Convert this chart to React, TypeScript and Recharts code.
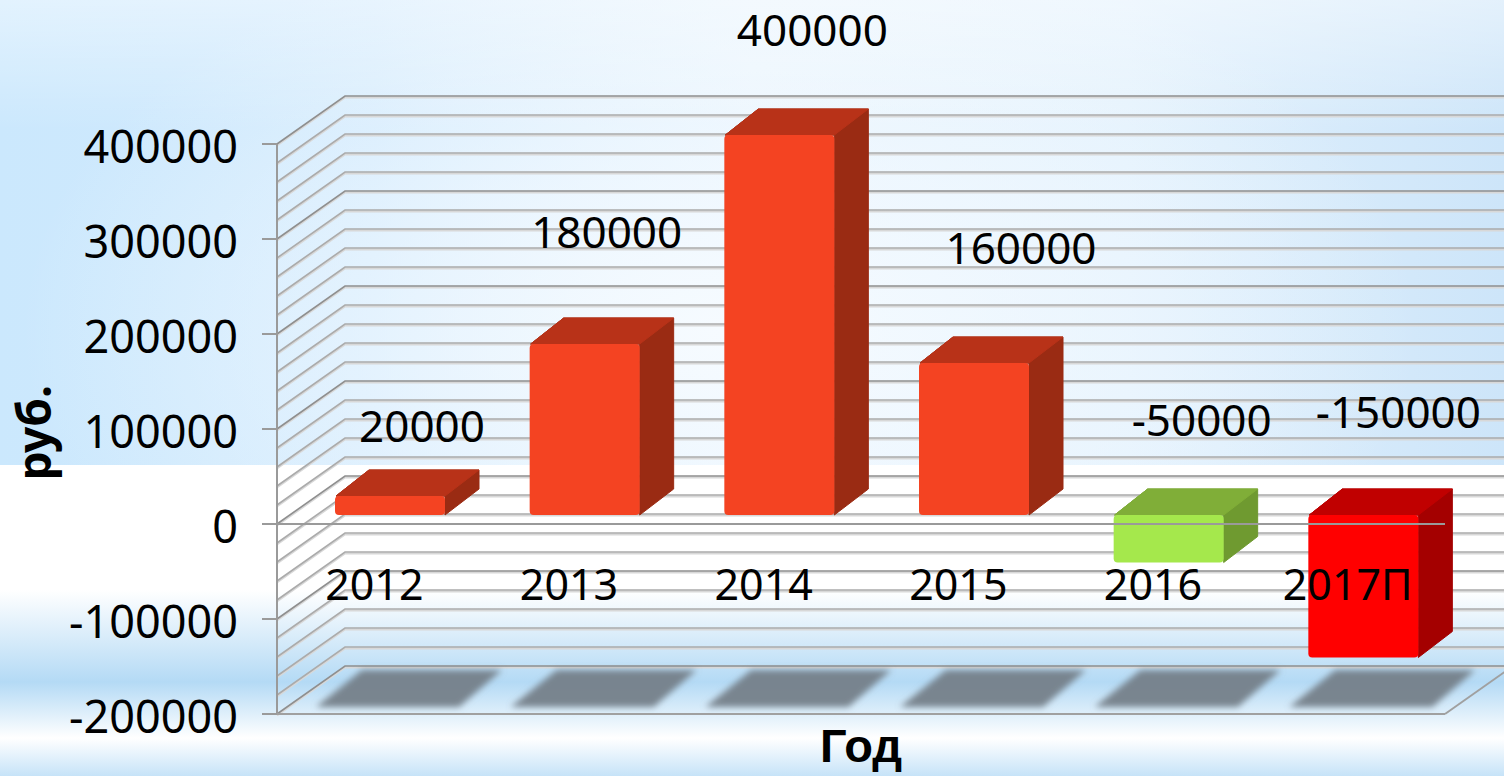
import React from "react";
import { BarChart, Bar, XAxis, YAxis, CartesianGrid, ReferenceLine, LabelList } from "recharts";

const years = ["2012", "2013", "2014", "2015", "2016", "2017П"];
const profit = [20000, 180000, 400000, 160000, -50000, -150000];
const yTicks = [-200000, -100000, 0, 100000, 200000, 300000, 400000];
const gridValues = [
  -200000, -180000, -160000, -140000, -120000, -100000, -80000, -60000, -40000, -20000, 0,
  20000, 40000, 60000, 80000, 100000, 120000, 140000, 160000, 180000, 200000,
  220000, 240000, 260000, 280000, 300000, 320000, 340000, 360000, 380000, 400000,
];

const data = years.map((year, i) => ({ year, profit: profit[i] }));

const orange = { front: "#f44322", top: "#b83218", side: "#9a2b13" };
const green = { front: "#a5e84c", top: "#80ae38", side: "#6f9a30" };
const red = { front: "#ff0000", top: "#c00000", side: "#a40000" };
const barPalette = [orange, orange, orange, orange, green, red];

// how far each value label sits from its bar, hand placed like the original slide
const labelNudge = [
  { dx: 48, dy: -80 },
  { dx: 38, dy: -122 },
  { dx: 49, dy: -115 },
  { dx: 63, dy: -125 },
  { dx: 49, dy: -105 },
  { dx: 51, dy: -113 },
];

const FONT = "'Noto Sans', sans-serif";
const DEPTH_X = 68;
const DEPTH_Y = 48;

function WallLine(props: any) {
  const { x1, y1, x2, index } = props;
  const value = gridValues[index];
  const major = value % 100000 === 0;
  const stroke = major ? "#8f8f8f" : "#ababab";
  const pts = `${x1},${y1} ${x1 + DEPTH_X},${y1 - DEPTH_Y} ${x2 + DEPTH_X},${y1 - DEPTH_Y}`;
  return (
    <g>
      <polyline points={pts} fill="none" stroke="#d8d8d8" strokeWidth={2} transform="translate(0,1.5)" />
      <polyline points={pts} fill="none" stroke={stroke} strokeWidth={1.6} />
      {value === -200000 && (
        <line x1={x2} y1={y1} x2={x2 + DEPTH_X} y2={y1 - DEPTH_Y} stroke="#a0a0a0" strokeWidth={2} />
      )}
    </g>
  );
}

function ZeroLine(props: any) {
  const { x1, y1, x2 } = props;
  return <line x1={x1} y1={y1} x2={x2} y2={y1} stroke="#9a9a9a" strokeWidth={2} />;
}

function Bar3D(props: any) {
  const { x, y, width, height, index, background } = props;
  const c = barPalette[index];
  const left = x + 16;
  const top = Math.min(y, y + height) - 9;
  const h = Math.abs(height);
  const dx = 34;
  const dy = 26;
  const floor = background ? background.y + background.height : 714;
  return (
    <g>
      <polygon
        points={`${left - 19},${floor - 7} ${left + 27},${floor - 44} ${left + 167},${floor - 44} ${left + 124},${floor - 7}`}
        fill="#737d85"
        fillOpacity={0.92}
        filter="url(#floorBlur)"
      />
      <polygon
        points={`${left + 1},${top} ${left + dx},${top - dy} ${left + width + dx},${top - dy} ${left + width + dx},${top - dy + h} ${left + width},${top + h} ${left + width},${top}`}
        fill={c.side}
        stroke={c.side}
        strokeLinejoin="round"
      />
      <polygon
        points={`${left + 1},${top} ${left + dx},${top - dy} ${left + width + dx},${top - dy} ${left + width},${top}`}
        fill={c.top}
        stroke={c.top}
        strokeLinejoin="round"
      />
      <rect x={left} y={top} width={width} height={h} rx={4} fill={c.front} />
    </g>
  );
}

function ValueLabel(props: any) {
  const { x, y, width, height, value, index } = props;
  const nudge = labelNudge[index];
  const top = Math.min(y, y + height);
  return (
    <text
      x={x + width / 2 + nudge.dx}
      y={top + nudge.dy}
      textAnchor="middle"
      dominantBaseline="central"
      fontFamily={FONT}
      fontSize={44}
      fill="#000"
    >
      {value}
    </text>
  );
}

function YearTick(props: any) {
  const { x, y, payload } = props;
  return (
    <text x={x} y={y - 139} textAnchor="middle" dominantBaseline="central" fontFamily={FONT} fontSize={43} fill="#000">
      {payload.value}
    </text>
  );
}

function ValueTick(props: any) {
  const { x, y, payload } = props;
  return (
    <text x={x + 2} y={y} dy={1} textAnchor="end" dominantBaseline="central" fontFamily={FONT} fontSize={45} fill="#000">
      {payload.value}
    </text>
  );
}

export default function App() {
  return (
    <div
      style={{
        position: "absolute",
        left: 0,
        top: 0,
        width: 1504,
        height: 776,
        overflow: "hidden",
        background:
          "linear-gradient(180deg, #fff 0, #fff 590px, #b4daf5 682px, #fff 738px, #c6e3f8 776px)",
      }}
    >
      <div
        style={{
          position: "absolute",
          left: 0,
          top: 0,
          width: 1504,
          height: 465,
          background:
            "linear-gradient(180deg, rgba(255,255,255,0.45) 0, rgba(255,255,255,0) 130px), radial-gradient(ellipse 700px 420px at 720px 330px, #f6fbff 0, rgba(246,251,255,0) 100%), linear-gradient(90deg, #cbe8fd 0, #d2eafd 25%, #e6f3fe 50%, #e2f1fd 75%, #cde5f9 100%)",
        }}
      />
      <BarChart
        width={1504}
        height={776}
        data={data}
        margin={{ top: 144, right: 59, bottom: 0, left: 0 }}
        style={{ position: "absolute", left: 0, top: 0 }}
      >
        <defs>
          <filter id="floorBlur" x="-10%" y="-30%" width="120%" height="160%">
            <feGaussianBlur stdDeviation="3" />
          </filter>
        </defs>
        <CartesianGrid
          vertical={false}
          horizontalValues={gridValues}
          horizontal={(p: any) => <WallLine key={p.index} {...p} />}
        />
        <YAxis
          width={277}
          domain={[-200000, 400000]}
          ticks={yTicks}
          interval={0}
          tickSize={15}
          tickMargin={26}
          axisLine={{ stroke: "#9a9a9a", strokeWidth: 2 }}
          tickLine={{ stroke: "#9a9a9a", strokeWidth: 2 }}
          tick={ValueTick}
          label={{
            value: "руб.",
            angle: -90,
            position: "insideLeft",
            dx: 30,
            dy: 4,
            style: { fontFamily: FONT, fontSize: 46, fontWeight: 700, fill: "#000", textAnchor: "middle" },
          }}
        />
        <Bar dataKey="profit" barSize={110} shape={Bar3D} isAnimationActive={false}>
          <LabelList dataKey="profit" content={ValueLabel} />
        </Bar>
        <ReferenceLine y={0} shape={ZeroLine} />
        <XAxis
          dataKey="year"
          height={62}
          interval={0}
          axisLine={{ stroke: "#a0a0a0", strokeWidth: 2 }}
          tickLine={false}
          tick={YearTick}
          label={{
            value: "Год",
            position: "insideBottom",
            offset: 14,
            style: { fontFamily: "'Liberation Sans', sans-serif", fontSize: 47, fontWeight: 700, fill: "#000" },
          }}
        />
      </BarChart>
    </div>
  );
}
